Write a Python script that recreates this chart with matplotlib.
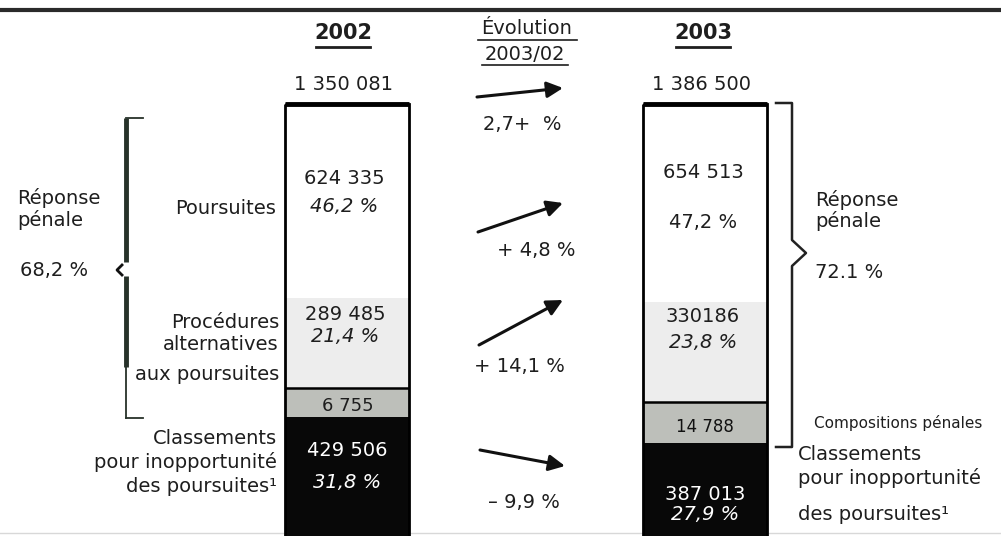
import matplotlib
matplotlib.use("Agg")
import matplotlib.pyplot as plt

# values
years = ["2002", "2003"]
totals = [1350081, 1386500]
poursuites = [624335, 654513]
alternatives = [289485, 330186]
compositions = [6755, 14788]
classements = [429506, 387013]

total_labels = ["1 350 081", "1 386 500"]
pours_labels = ["624 335", "654 513"]
alt_labels = ["289 485", "330186"]
comp_labels = ["6 755", "14 788"]
class_labels = ["429 506", "387 013"]
pours_pct = ["46,2 %", "47,2 %"]
alt_pct = ["21,4 %", "23,8 %"]
class_pct = ["31,8 %", "27,9 %"]
reponse_pct = ["68,2 %", "72.1 %"]
evolution = ["2,7+  %", "+ 4,8 %", "+ 14,1 %", "\u2013 9,9 %"]

# layout (pixels)
W, H = 1001, 536
top_px = 104
px_per_pct = 4.2
bar_x = [347, 705]
bar_w = 124
comp_min, comp_zoom = 4.4, 5.0  # compositions band is enlarged to stay visible
ink = "#1e1e1e"

fig = plt.figure(figsize=(W / 100, H / 100), dpi=100)
ax = fig.add_axes([0, 0, 1, 1])
ax.set_xlim(0, W)
ax.set_ylim((H - top_px) / px_per_pct, -top_px / px_per_pct)
ax.axis("off")

# faint rule at the very bottom, behind the bars
ax.axhline((533 - top_px) / px_per_pct, color="#d8d8d8", lw=1, zorder=0)

for i in range(2):
    sp = poursuites[i] / totals[i] * 100
    sa = alternatives[i] / totals[i] * 100
    sc = comp_min + comp_zoom * compositions[i] / totals[i] * 100
    sk = classements[i] / totals[i] * 100
    x = bar_x[i]
    ax.bar(x, sp, bottom=0, width=bar_w, color="white", lw=0)
    ax.bar(x, sa, bottom=sp, width=bar_w, color="#ededed", lw=0)
    ax.bar(x, sc, bottom=sp + sa, width=bar_w, color="#bdbfba", lw=0)
    ax.bar(x, sk, bottom=sp + sa + sc, width=bar_w, color="#080808", lw=0)
    ax.bar(x, sp + sa + sc + sk, bottom=0, width=bar_w, fill=False,
           edgecolor="black", lw=2)
    ax.hlines(0, x - bar_w / 2, x + bar_w / 2, color="black", lw=3.5)
    ax.hlines(sp + sa, x - bar_w / 2, x + bar_w / 2, color="black", lw=1.8)

lay = fig.add_axes([0, 0, 1, 1])
lay.set_xlim(0, W)
lay.set_ylim(H, 0)
lay.axis("off")
lay.patch.set_alpha(0)

# top rule
lay.plot([0, W], [10, 10], color="#2a2a2a", lw=3)

f = dict(family="DejaVu Sans", color=ink)
narrow = ["Liberation Sans Narrow", "DejaVu Sans"]

# headers
for i, yr in enumerate(years):
    lay.text(bar_x[i] - 4 + 2 * i, 33, yr, ha="center", va="center",
             fontsize=15, fontweight="bold", **f)
    lay.plot([bar_x[i] - 31 + 2 * i, bar_x[i] + 23 + 2 * i], [47, 47],
             color=ink, lw=2)
    lay.text(bar_x[i] - 4, 84, total_labels[i], ha="center", va="center",
             fontsize=14, **f)
lay.text(527, 29, "\u00c9volution", ha="center", va="center",
         fontsize=14, **f)
lay.plot([478, 577], [40, 40], color=ink, lw=1.2)
lay.text(525, 54, "2003/02", ha="center", va="center", fontsize=14, **f)
lay.plot([482, 568], [65, 65], color=ink, lw=1.2)

# values inside the bars
lay.text(344, 178, pours_labels[0], ha="center", va="center", fontsize=14, **f)
lay.text(344, 207, pours_pct[0], ha="center", va="center", fontsize=14,
         style="italic", **f)
lay.text(345, 314, alt_labels[0], ha="center", va="center", fontsize=14, **f)
lay.text(345, 336, alt_pct[0], ha="center", va="center", fontsize=14,
         style="italic", **f)
lay.text(348, 406, comp_labels[0], ha="center", va="center", fontsize=13,
         family=narrow, color=ink)
lay.text(347, 450, class_labels[0], ha="center", va="center", fontsize=14,
         family="DejaVu Sans", color="white")
lay.text(347, 482, class_pct[0], ha="center", va="center", fontsize=14,
         style="italic", family="DejaVu Sans", color="white")

lay.text(703, 173, pours_labels[1], ha="center", va="center", fontsize=14, **f)
lay.text(703, 223, pours_pct[1], ha="center", va="center", fontsize=14, **f)
lay.text(703, 317, alt_labels[1], ha="center", va="center", fontsize=14, **f)
lay.text(703, 342, alt_pct[1], ha="center", va="center", fontsize=14,
         style="italic", **f)
lay.text(705, 427, comp_labels[1], ha="center", va="center", fontsize=12,
         family=narrow, color="#111111")
lay.text(705, 495, class_labels[1], ha="center", va="center", fontsize=14,
         family="DejaVu Sans", color="white")
lay.text(705, 515, class_pct[1], ha="center", va="center", fontsize=14,
         style="italic", family="DejaVu Sans", color="white")

# evolution arrows
arrows = [((477, 97), (563, 88)), ((478, 232), (563, 203)),
          ((479, 345), (563, 300)), ((480, 450), (565, 466))]
for (x0, y0), (x1, y1) in arrows:
    lay.annotate("", xy=(x1, y1), xytext=(x0, y0),
                 arrowprops=dict(arrowstyle="-|>", lw=2.2, color="#111111",
                                 mutation_scale=24, shrinkA=0, shrinkB=0))
evo_pos = [(522, 125), (536, 250), (519, 367), (524, 502)]
for (x, y), t in zip(evo_pos, evolution):
    lay.text(x, y, t, ha="center", va="center", fontsize=14, **f)

# left labels
lay.text(276, 208, "Poursuites", ha="right", va="center", fontsize=14, **f)
for y, t in zip([322, 345, 375], ["Proc\u00e9dures", "alternatives",
                                   "aux poursuites"]):
    lay.text(279, y, t, ha="right", va="center", fontsize=14, **f)
for y, t in zip([438, 462, 486], ["Classements", "pour inopportunit\u00e9",
                                   "des poursuites\u00b9"]):
    lay.text(277, y, t, ha="right", va="center", fontsize=14, **f)

# left bracket
lay.plot([126, 126], [118, 262], color="#27322a", lw=3.5, solid_capstyle="butt")
lay.plot([126, 126], [276, 367], color="#27322a", lw=3.5, solid_capstyle="butt")
lay.plot([126, 126], [367, 418], color="#27322a", lw=1.3)
lay.plot([126, 143], [118, 118], color="#27322a", lw=1.3)
lay.plot([126, 143], [418, 418], color="#27322a", lw=1.3)
lay.plot([122, 117, 122], [265, 270, 275], color="#111111", lw=2)
lay.text(17, 198, "R\u00e9ponse", ha="left", va="center", fontsize=14, **f)
lay.text(17, 220, "p\u00e9nale", ha="left", va="center", fontsize=14, **f)
lay.text(20, 270, reponse_pct[0], ha="left", va="center", fontsize=14, **f)

# right bracket
lay.plot([776, 792, 792, 806, 792, 792, 776],
         [103, 103, 240, 253, 266, 447, 447], color="#222222", lw=1.8)
lay.text(815, 200, "R\u00e9ponse", ha="left", va="center", fontsize=14, **f)
lay.text(815, 221, "p\u00e9nale", ha="left", va="center", fontsize=14, **f)
lay.text(815, 272, reponse_pct[1], ha="left", va="center", fontsize=14, **f)
lay.text(898, 423, "Compositions p\u00e9nales", ha="center", va="center",
         fontsize=11, **f)
for y, t in zip([454, 478, 515], ["Classements", "pour inopportunit\u00e9",
                                   "des poursuites\u00b9"]):
    lay.text(798, y, t, ha="left", va="center", fontsize=14, **f)

fig.savefig("out.png", dpi=100)
